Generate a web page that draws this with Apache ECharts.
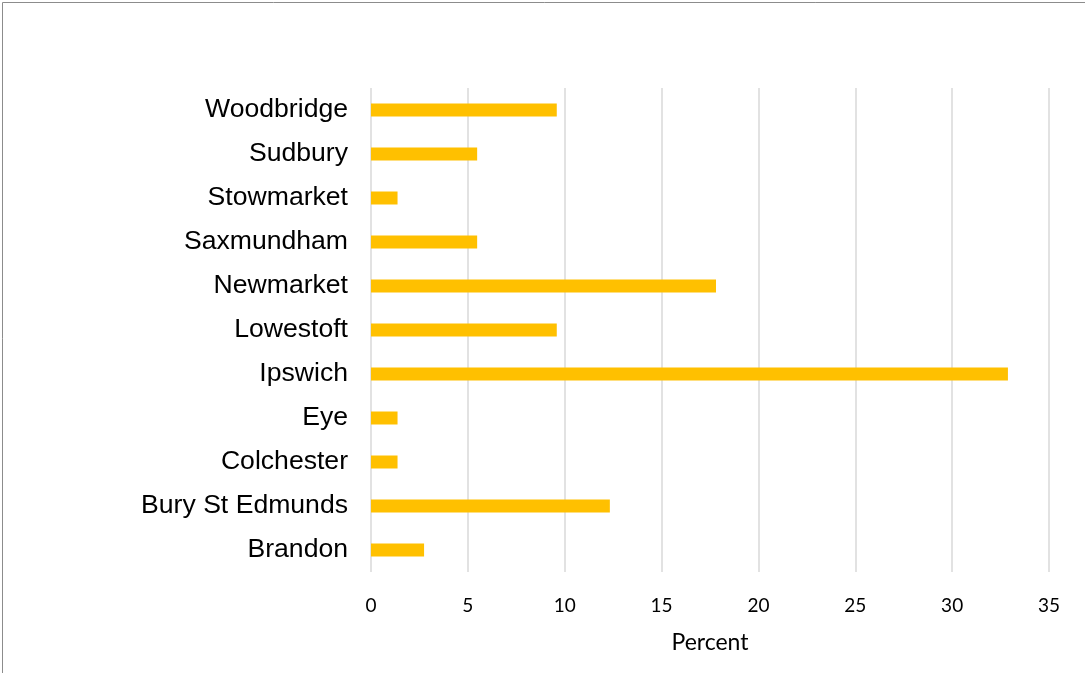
<!DOCTYPE html>
<html>
<head>
<meta charset="utf-8">
<script src="https://cdn.jsdelivr.net/npm/echarts@6/dist/echarts.min.js"></script>
<style>
html,body{margin:0;padding:0;background:#fff;}
#chart{width:1085px;height:673px;}
</style>
</head>
<body>
<div id="chart"></div>
<script>
const categories = ["Brandon","Bury St Edmunds","Colchester","Eye","Ipswich","Lowestoft","Newmarket","Saxmundham","Stowmarket","Sudbury","Woodbridge"];
const percentValues = [2.74, 12.33, 1.37, 1.37, 32.88, 9.59, 17.81, 5.48, 1.37, 5.48, 9.59];
const xTicks = [0, 5, 10, 15, 20, 25, 30, 35];

const chart = echarts.init(document.getElementById('chart'), null, {renderer:'canvas'});
chart.setOption({
  animation:false,
  backgroundColor:'#ffffff',
  graphic:[{type:'rect', shape:{x:2.5,y:2.5,width:1200,height:1000}, style:{fill:'none', stroke:'#8c8c8c', lineWidth:1}}],
  grid:{left:371, right:36, top:88, bottom:101, containLabel:false},
  xAxis:{
    type:'value', min:xTicks[0], max:xTicks[xTicks.length-1], interval:5,
    name:'Percent', nameLocation:'middle', nameGap:59,
    nameTextStyle:{fontFamily:'Lato', fontSize:23, color:'#000'},
    axisLine:{show:false}, axisTick:{show:false},
    axisLabel:{fontFamily:'Lato', fontSize:19, color:'#000', margin:24},
    splitLine:{show:true, lineStyle:{color:'#d9d9d9', width:1.5}}
  },
  yAxis:{
    type:'category', data:categories,
    axisLine:{show:false}, axisTick:{show:false},
    axisLabel:{fontFamily:'Liberation Sans, Arial', fontSize:26.6, color:'#000', margin:23, padding:[2,0,0,0]},
    splitLine:{show:false}
  },
  series:[{
    type:'bar', data:percentValues, barWidth:13,
    itemStyle:{color:'#ffc000'}
  }]
});
</script>
</body>
</html>
